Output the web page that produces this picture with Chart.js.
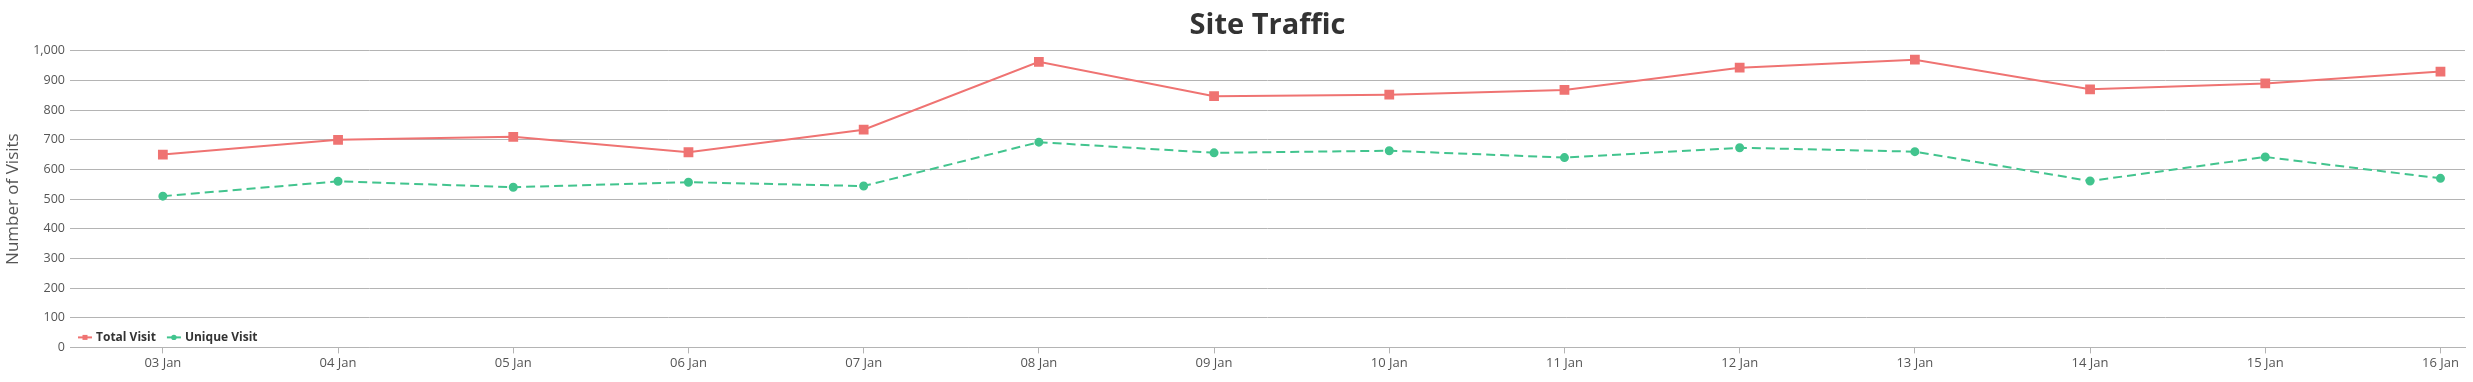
<!DOCTYPE html>
<html>
<head>
<meta charset="utf-8">
<script src="https://cdn.jsdelivr.net/npm/chart.js@4.4.1/dist/chart.umd.min.js"></script>
<style>
html,body{margin:0;padding:0;background:#fff;overflow:hidden}
#wrap{width:2473px;height:382px;position:relative}
</style>
</head>
<body>
<div id="wrap"><canvas id="trafficChart"></canvas></div>
<script>
const days=["03 Jan","04 Jan","05 Jan","06 Jan","07 Jan","08 Jan","09 Jan","10 Jan","11 Jan","12 Jan","13 Jan","14 Jan","15 Jan","16 Jan"];
const totalVisit=[650,700,710,658,734,963,847,852,868,943,970,870,890,930];
const uniqueVisit=[510,560,540,557,544,692,656,663,640,673,660,561,642,570];
const seriesNames=["Total Visit","Unique Visit"];
const yMin=0,yMax=1000,yStep=100;

const red="#ef7372",green="#42c48e",gridGray="#b4b4b4",fontFam="'Open Sans', sans-serif";

// legend sits inside the plot, bottom-left, line + marker like the original
const insideLegend={
  id:"insideLegend",
  afterDatasetsDraw(chart){
    const ctx=chart.ctx,a=chart.chartArea;
    let x=a.left+8;const y=a.bottom-10;
    ctx.save();
    ctx.font="bold 12px "+fontFam;ctx.textBaseline="middle";
    chart.data.datasets.forEach(ds=>{
      ctx.strokeStyle=ds.borderColor;ctx.fillStyle=ds.borderColor;ctx.lineWidth=2;ctx.setLineDash([]);
      ctx.beginPath();ctx.moveTo(x,y);ctx.lineTo(x+14,y);ctx.stroke();
      if(ds.pointStyle==="rect")ctx.fillRect(x+4.5,y-2.5,5,5);
      else{ctx.beginPath();ctx.arc(x+7,y,2.7,0,Math.PI*2);ctx.fill();}
      ctx.fillStyle="#333";ctx.fillText(ds.label,x+18,y);
      x+=18+ctx.measureText(ds.label).width+11;
    });
    ctx.restore();
  }
};

new Chart(document.getElementById("trafficChart"),{
  type:"line",
  data:{datasets:[
    {label:seriesNames[0],data:totalVisit.map((v,i)=>({x:i,y:v})),borderColor:red,backgroundColor:red,borderWidth:2,
     pointStyle:"rect",pointRadius:5.5,pointHoverRadius:6,tension:0,fill:false},
    {label:seriesNames[1],data:uniqueVisit.map((v,i)=>({x:i,y:v})),borderColor:green,backgroundColor:green,borderWidth:2,borderDash:[9,5],
     pointStyle:"circle",pointRadius:3.5,pointHoverRadius:4,tension:0,fill:false}
  ]},
  plugins:[insideLegend],
  options:{
    responsive:true,maintainAspectRatio:false,animation:false,
    layout:{padding:{left:1,right:0,top:0,bottom:9}},
    plugins:{
      legend:{display:false},
      tooltip:{enabled:false},
      title:{display:true,text:"Site Traffic",color:"#333",fullSize:false,
        font:{family:fontFam,size:29,weight:"bold"},padding:{top:8,bottom:8}}
    },
    scales:{
      x:{type:"linear",min:-0.53,max:13.14,
        afterBuildTicks:s=>{s.ticks=days.map((d,i)=>({value:i}));},
        grid:{drawOnChartArea:false,drawTicks:true,tickLength:6,color:gridGray},
        border:{display:true,color:gridGray},
        ticks:{autoSkip:false,maxRotation:0,padding:2,color:"#555",font:{family:fontFam,size:13},callback:v=>days[v]}},
      y:{min:yMin,max:yMax,
        afterFit:s=>{s.width=69;},
        grid:{color:gridGray,drawTicks:false},
        border:{display:false},
        ticks:{stepSize:yStep,padding:5,color:"#555",font:{family:fontFam,size:12.5}},
        title:{display:true,text:"Number of Visits",color:"#555",font:{family:fontFam,size:17},padding:{top:2,bottom:4}}}
    }
  }
});
</script>
</body>
</html>
